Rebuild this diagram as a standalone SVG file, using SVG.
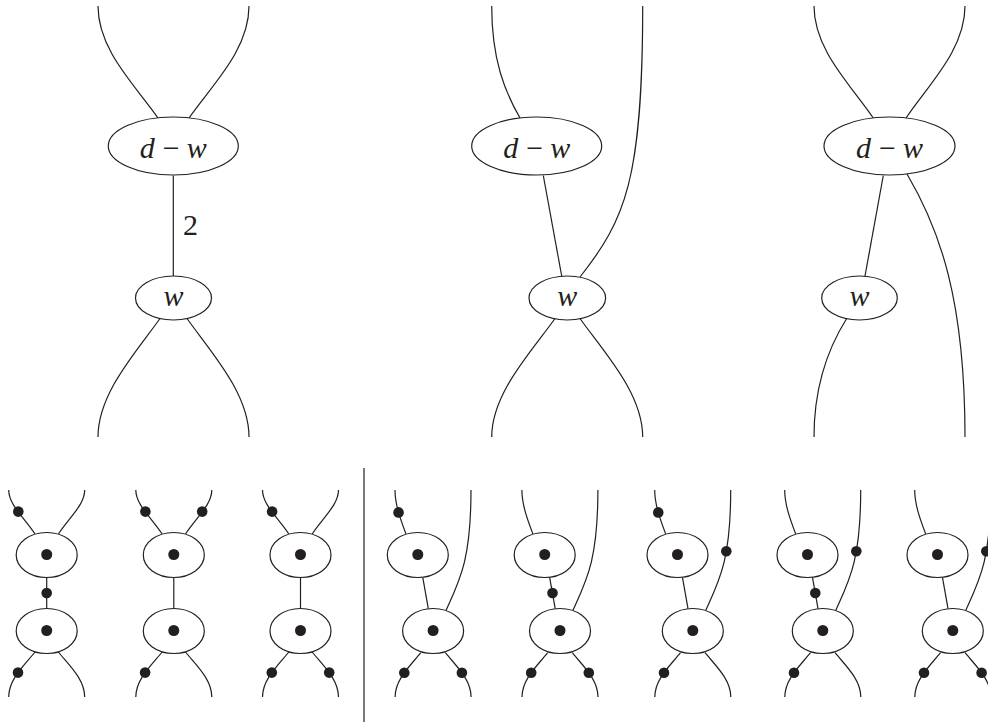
<svg xmlns="http://www.w3.org/2000/svg" width="988" height="726" viewBox="0 0 988 726">
<style>
.n{fill:#fff;stroke:#231f20;stroke-width:1.2}
.c{fill:none;stroke:#231f20;stroke-width:1.2}
.d{fill:#231f20}
.t{font-family:"Liberation Serif","Times New Roman",serif;font-size:30px;fill:#231f20}
.i{font-style:italic}
</style>
<rect width="988" height="726" fill="#fff"/>

<!-- Top-left diagram -->
<g id="A">
  <g id="A-edges">
    <path class="c" d="M98,6 C98,50 135,85 158,118"/>
    <path class="c" d="M249,6 C249,50 212,85 189,118"/>
    <path class="c" d="M173.3,175.5 L173.3,276"/>
    <text class="t" x="183" y="235">2</text>
    <path class="c" d="M160,318.5 C137,351 98,393 98,437"/>
    <path class="c" d="M187,318.5 C210,351 249,393 249,437"/>
  </g>
  <g id="A-dw">
    <ellipse class="n" cx="173.3" cy="146" rx="65" ry="29"/>
    <text class="t" x="173.3" y="157.5" text-anchor="middle"><tspan class="i">d</tspan><tspan dx="8">−</tspan><tspan dx="7" class="i">w</tspan></text>
  </g>
  <g id="A-w">
    <ellipse class="n" cx="173.5" cy="298" rx="38" ry="22"/>
    <text class="t i" x="173.5" y="305.5" text-anchor="middle">w</text>
  </g>
</g>

<!-- Top-middle diagram -->
<g id="B">
  <g id="B-edges">
    <path class="c" d="M491.7,6 C491.7,60 505,92 520,118"/>
    <path class="c" d="M642.7,6 C642.7,180 625,220 580,277"/>
    <path class="c" d="M543.3,175.5 L561.7,276"/>
    <path class="c" d="M555,318.5 C532,351 491.7,393 491.7,437"/>
    <path class="c" d="M580,318.5 C603,351 642.7,393 642.7,437"/>
  </g>
  <g id="B-dw">
    <ellipse class="n" cx="536.7" cy="146" rx="65" ry="29"/>
    <text class="t" x="536.7" y="157.5" text-anchor="middle"><tspan class="i">d</tspan><tspan dx="8">−</tspan><tspan dx="7" class="i">w</tspan></text>
  </g>
  <g id="B-w">
    <ellipse class="n" cx="567.3" cy="298" rx="38.3" ry="22"/>
    <text class="t i" x="567.3" y="305.5" text-anchor="middle">w</text>
  </g>
</g>

<!-- Top-right diagram -->
<g id="C">
  <g id="C-edges">
    <path class="c" d="M814,6 C814,50 851,85 873.3,118"/>
    <path class="c" d="M965,6 C965,50 928,85 906,118"/>
    <path class="c" d="M883.3,175.5 L865,276"/>
    <path class="c" d="M907,174 C940,230 965,300 965,437"/>
    <path class="c" d="M846.7,318.5 C830,345 814,385 814,437"/>
  </g>
  <g id="C-dw">
    <ellipse class="n" cx="889.5" cy="146" rx="65.5" ry="29"/>
    <text class="t" x="889.5" y="157.5" text-anchor="middle"><tspan class="i">d</tspan><tspan dx="8">−</tspan><tspan dx="7" class="i">w</tspan></text>
  </g>
  <g id="C-w">
    <ellipse class="n" cx="859.5" cy="298" rx="37.8" ry="22"/>
    <text class="t i" x="859.5" y="305.5" text-anchor="middle">w</text>
  </g>
</g>

<!-- separator -->
<path class="c" d="M364,468 L364,722"/>

<!-- Bottom-left group (symmetric) -->
<g id="s1" transform="translate(46.7,0)">
  <g id="s1-edges">
    <path class="c" d="M-38,490 C-38,505 -22,518 -11.7,534"/>
    <path class="c" d="M38,490 C38,505 22,518 11.7,534"/>
    <path class="c" d="M0,577.5 L0,608.5"/>
    <path class="c" d="M-11.7,652 C-22,665 -38,679 -38,697"/>
    <path class="c" d="M11.7,652 C22,665 38,679 38,697"/>
    <circle class="d" cx="-28.4" cy="511.6" r="5.3"/>
    <circle class="d" cx="0" cy="593" r="5.3"/>
    <circle class="d" cx="-28.7" cy="672.6" r="5.3"/>
  </g>
  <g id="s1-u"><ellipse class="n" cx="0" cy="555" rx="30.5" ry="22.5"/><circle class="d" cx="0" cy="554.5" r="5.5"/></g>
  <g id="s1-l"><ellipse class="n" cx="0" cy="631" rx="30.5" ry="22.5"/><circle class="d" cx="0" cy="630.5" r="5.5"/></g>
</g>

<g id="s2" transform="translate(173.8,0)">
  <g id="s2-edges">
    <path class="c" d="M-38,490 C-38,505 -22,518 -11.7,534"/>
    <path class="c" d="M38,490 C38,505 22,518 11.7,534"/>
    <path class="c" d="M0,577.5 L0,608.5"/>
    <path class="c" d="M-11.7,652 C-22,665 -38,679 -38,697"/>
    <path class="c" d="M11.7,652 C22,665 38,679 38,697"/>
    <circle class="d" cx="-28.4" cy="511.6" r="5.3"/>
    <circle class="d" cx="28.4" cy="511.6" r="5.3"/>
    <circle class="d" cx="-28.7" cy="672.6" r="5.3"/>
  </g>
  <g id="s2-u"><ellipse class="n" cx="0" cy="555" rx="30.5" ry="22.5"/><circle class="d" cx="0" cy="554.5" r="5.5"/></g>
  <g id="s2-l"><ellipse class="n" cx="0" cy="631" rx="30.5" ry="22.5"/><circle class="d" cx="0" cy="630.5" r="5.5"/></g>
</g>

<g id="s3" transform="translate(300.5,0)">
  <g id="s3-edges">
    <path class="c" d="M-38,490 C-38,505 -22,518 -11.7,534"/>
    <path class="c" d="M38,490 C38,505 22,518 11.7,534"/>
    <path class="c" d="M0,577.5 L0,608.5"/>
    <path class="c" d="M-11.7,652 C-22,665 -38,679 -38,697"/>
    <path class="c" d="M11.7,652 C22,665 38,679 38,697"/>
    <circle class="d" cx="-28.4" cy="511.6" r="5.3"/>
    <circle class="d" cx="-28.7" cy="672.6" r="5.3"/>
    <circle class="d" cx="28.7" cy="672.6" r="5.3"/>
  </g>
  <g id="s3-u"><ellipse class="n" cx="0" cy="555" rx="30.5" ry="22.5"/><circle class="d" cx="0" cy="554.5" r="5.5"/></g>
  <g id="s3-l"><ellipse class="n" cx="0" cy="631" rx="30.5" ry="22.5"/><circle class="d" cx="0" cy="630.5" r="5.5"/></g>
</g>

<!-- Bottom-right group (crossing) -->
<g id="s4" transform="translate(417.8,0)">
  <g id="s4-edges">
    <path class="c" d="M-22.8,490 C-22.8,505 -17,520 -11.8,534"/>
    <path class="c" d="M53.2,490 C53.2,560 42,580 28.2,610.5"/>
    <path class="c" d="M5,577.7 L10.5,608.6"/>
    <path class="c" d="M3,652.7 C-6.7,665 -22.7,679 -22.7,697"/>
    <path class="c" d="M27.6,652.7 C37.3,665 53.3,679 53.3,697"/>
    <circle class="d" cx="-19.25" cy="512.4" r="5.3"/>
    <circle class="d" cx="-13.5" cy="672.7" r="5.3"/>
    <circle class="d" cx="44.1" cy="672.7" r="5.3"/>
  </g>
  <g id="s4-u"><ellipse class="n" cx="0" cy="555" rx="30.5" ry="22.5"/><circle class="d" cx="0" cy="554.5" r="5.5"/></g>
  <g id="s4-l"><ellipse class="n" cx="15.3" cy="631" rx="30.5" ry="22.5"/><circle class="d" cx="15.3" cy="630.5" r="5.5"/></g>
</g>

<g id="s5" transform="translate(544.7,0)">
  <g id="s5-edges">
    <path class="c" d="M-22.8,490 C-22.8,505 -17,520 -11.8,534"/>
    <path class="c" d="M53.2,490 C53.2,560 42,580 28.2,610.5"/>
    <path class="c" d="M5,577.7 L10.5,608.6"/>
    <path class="c" d="M3,652.7 C-6.7,665 -22.7,679 -22.7,697"/>
    <path class="c" d="M27.6,652.7 C37.3,665 53.3,679 53.3,697"/>
    <circle class="d" cx="7.8" cy="593" r="5.3"/>
    <circle class="d" cx="-13.5" cy="672.7" r="5.3"/>
    <circle class="d" cx="44.1" cy="672.7" r="5.3"/>
  </g>
  <g id="s5-u"><ellipse class="n" cx="0" cy="555" rx="30.5" ry="22.5"/><circle class="d" cx="0" cy="554.5" r="5.5"/></g>
  <g id="s5-l"><ellipse class="n" cx="15.3" cy="631" rx="30.5" ry="22.5"/><circle class="d" cx="15.3" cy="630.5" r="5.5"/></g>
</g>

<g id="s6" transform="translate(677.5,0)">
  <g id="s6-edges">
    <path class="c" d="M-22.8,490 C-22.8,505 -17,520 -11.8,534"/>
    <path class="c" d="M53.2,490 C53.2,560 42,580 28.2,610.5"/>
    <path class="c" d="M5,577.7 L10.5,608.6"/>
    <path class="c" d="M3,652.7 C-6.7,665 -22.7,679 -22.7,697"/>
    <path class="c" d="M27.6,652.7 C37.3,665 53.3,679 53.3,697"/>
    <circle class="d" cx="-19.25" cy="512.4" r="5.3"/>
    <circle class="d" cx="48.8" cy="551.3" r="5.3"/>
    <circle class="d" cx="-13.5" cy="672.7" r="5.3"/>
  </g>
  <g id="s6-u"><ellipse class="n" cx="0" cy="555" rx="30.5" ry="22.5"/><circle class="d" cx="0" cy="554.5" r="5.5"/></g>
  <g id="s6-l"><ellipse class="n" cx="15.3" cy="631" rx="30.5" ry="22.5"/><circle class="d" cx="15.3" cy="630.5" r="5.5"/></g>
</g>

<g id="s7" transform="translate(807.5,0)">
  <g id="s7-edges">
    <path class="c" d="M-22.8,490 C-22.8,505 -17,520 -11.8,534"/>
    <path class="c" d="M53.2,490 C53.2,560 42,580 28.2,610.5"/>
    <path class="c" d="M5,577.7 L10.5,608.6"/>
    <path class="c" d="M3,652.7 C-6.7,665 -22.7,679 -22.7,697"/>
    <path class="c" d="M27.6,652.7 C37.3,665 53.3,679 53.3,697"/>
    <circle class="d" cx="48.8" cy="551.3" r="5.3"/>
    <circle class="d" cx="7.8" cy="593" r="5.3"/>
    <circle class="d" cx="-13.5" cy="672.7" r="5.3"/>
  </g>
  <g id="s7-u"><ellipse class="n" cx="0" cy="555" rx="30.5" ry="22.5"/><circle class="d" cx="0" cy="554.5" r="5.5"/></g>
  <g id="s7-l"><ellipse class="n" cx="15.3" cy="631" rx="30.5" ry="22.5"/><circle class="d" cx="15.3" cy="630.5" r="5.5"/></g>
</g>

<g id="s8" transform="translate(937.5,0)">
  <g id="s8-edges">
    <path class="c" d="M-22.8,490 C-22.8,505 -17,520 -11.8,534"/>
    <path class="c" d="M53.2,490 C53.2,560 42,580 28.2,610.5"/>
    <path class="c" d="M5,577.7 L10.5,608.6"/>
    <path class="c" d="M3,652.7 C-6.7,665 -22.7,679 -22.7,697"/>
    <path class="c" d="M27.6,652.7 C37.3,665 53.3,679 53.3,697"/>
    <circle class="d" cx="48.8" cy="551.3" r="5.3"/>
    <circle class="d" cx="-13.5" cy="672.7" r="5.3"/>
    <circle class="d" cx="44.1" cy="672.7" r="5.3"/>
  </g>
  <g id="s8-u"><ellipse class="n" cx="0" cy="555" rx="30.5" ry="22.5"/><circle class="d" cx="0" cy="554.5" r="5.5"/></g>
  <g id="s8-l"><ellipse class="n" cx="15.3" cy="631" rx="30.5" ry="22.5"/><circle class="d" cx="15.3" cy="630.5" r="5.5"/></g>
</g>
</svg>
